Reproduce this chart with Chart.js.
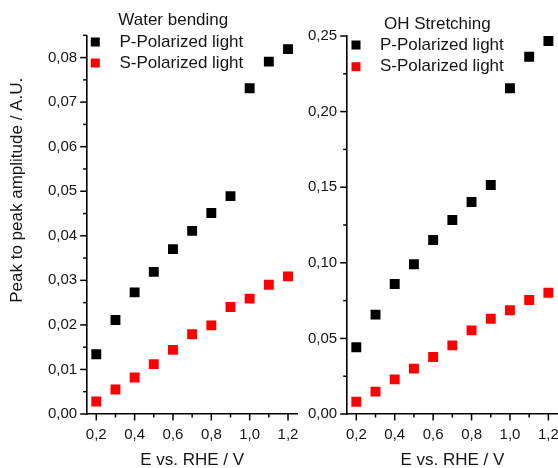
<!DOCTYPE html>
<html><head><meta charset="utf-8">
<script src="https://cdn.jsdelivr.net/npm/chart.js@4"></script>
<style>
html,body{margin:0;padding:0;background:#fff;overflow:hidden;width:558px;height:468px;}
#wrap{position:relative;width:558px;height:468px;overflow:hidden;background:#fff;}
#c1{position:absolute;left:0;top:0;}
#c2{position:absolute;left:290px;top:0;}
</style></head><body>
<div id="wrap"><canvas id="c1" width="310" height="480"></canvas><canvas id="c2" width="300" height="480"></canvas></div>
<script>
// ---- data ----
const potentials = [0.2, 0.3, 0.4, 0.5, 0.6, 0.7, 0.8, 0.9, 1.0, 1.1, 1.2];
const waterP = [0.0134, 0.0211, 0.0273, 0.0319, 0.0370, 0.0411, 0.0451, 0.0489, 0.0731, 0.0791, 0.0819];
const waterS = [0.0028, 0.0055, 0.0082, 0.0112, 0.0144, 0.0179, 0.0199, 0.0240, 0.0259, 0.0290, 0.0309];
const ohP = [0.0441, 0.0657, 0.0860, 0.0990, 0.1151, 0.1283, 0.1402, 0.1515, 0.2154, 0.2363, 0.2467];
const ohS = [0.0081, 0.0148, 0.0229, 0.0300, 0.0377, 0.0454, 0.0553, 0.0630, 0.0686, 0.0754, 0.0802];

// ---- ticks ----
const xMajorTicks = [0.2, 0.4, 0.6, 0.8, 1.0, 1.2];
const xMinorTicks = [0.3, 0.5, 0.7, 0.9, 1.1];
const waterMajorTicks = [0.00, 0.01, 0.02, 0.03, 0.04, 0.05, 0.06, 0.07, 0.08];
const waterMinorTicks = [0.005, 0.015, 0.025, 0.035, 0.045, 0.055, 0.065, 0.075, 0.085];
const ohMajorTicks = [0.00, 0.05, 0.10, 0.15, 0.20, 0.25];
const ohMinorTicks = [0.025, 0.075, 0.125, 0.175, 0.225];

const seriesLabels = ['P-Polarized light', 'S-Polarized light'];
const seriesColors = ['#000000', '#ff0000'];
const yAxisTitle = 'Peak to peak amplitude / A.U.';
const xAxisTitle = 'E vs. RHE / V';

const FONT = '"Liberation Sans", Arial, sans-serif';
const TXT = '#151515';

function pts(ys) { return potentials.map((x, i) => ({x: x, y: ys[i]})); }
function buildTicks(major, minor) {
  return function(scale) {
    const all = major.map(v => ({value: v, minor: false})).concat(minor.map(v => ({value: v, minor: true})));
    all.sort((a, b) => a.value - b.value);
    scale.ticks = all;
  };
}

const tickPlugin = {
  id: 'tickMarks',
  afterDraw(chart) {
    const ctx = chart.ctx; const xs = chart.scales.x, ys = chart.scales.y;
    ctx.save(); ctx.strokeStyle = '#000'; ctx.lineWidth = 1.5;
    xs.ticks.forEach(t => {
      const px = xs.getPixelForValue(t.value); const len = t.minor ? 3.5 : 6.5;
      ctx.beginPath(); ctx.moveTo(px, chart.chartArea.bottom); ctx.lineTo(px, chart.chartArea.bottom + len); ctx.stroke();
    });
    ys.ticks.forEach(t => {
      const py = ys.getPixelForValue(t.value); const len = t.minor ? 3.5 : 6.5;
      ctx.beginPath(); ctx.moveTo(chart.chartArea.left, py); ctx.lineTo(chart.chartArea.left - len, py); ctx.stroke();
    });
    ctx.restore();
  }
};

const yTitlePlugin = {
  id: 'yTitle',
  afterDraw(chart, args, o) {
    if (!o.text) return;
    const ctx = chart.ctx, a = chart.chartArea;
    ctx.save();
    ctx.font = '17px ' + FONT;
    ctx.fillStyle = TXT; ctx.textAlign = 'center'; ctx.textBaseline = 'middle';
    ctx.translate(o.x, a.top + o.dy);
    ctx.rotate(-Math.PI / 2);
    ctx.fillText(o.text, 0, 0);
    ctx.restore();
  }
};

const legendPlugin = {
  id: 'boxLegend',
  afterDraw(chart, args, o) {
    const ctx = chart.ctx, a = chart.chartArea;
    ctx.save();
    ctx.font = '17px ' + FONT;
    ctx.textBaseline = 'middle'; ctx.textAlign = 'left';
    ctx.fillStyle = TXT;
    ctx.fillText(o.title, a.left + o.titleDx, a.top + o.titleDy);
    chart.data.datasets.forEach((ds, i) => {
      const cy = a.top + o.rowDy + i * o.rowGap;
      ctx.fillStyle = ds.backgroundColor;
      ctx.fillRect(a.left + o.boxDx - 4.5, cy - 4.5, 9, 9);
      ctx.fillStyle = TXT;
      ctx.fillText(ds.label, a.left + o.textDx, cy);
    });
    ctx.restore();
  }
};

function makeChart(id, opts) {
  return new Chart(document.getElementById(id), {
    type: 'scatter',
    data: {
      datasets: [
        {label: seriesLabels[0], data: pts(opts.p), backgroundColor: seriesColors[0], borderColor: seriesColors[0],
         pointStyle: 'rect', pointRadius: 7, pointBorderWidth: 0},
        {label: seriesLabels[1], data: pts(opts.s), backgroundColor: seriesColors[1], borderColor: seriesColors[1],
         pointStyle: 'rect', pointRadius: 7, pointBorderWidth: 0}
      ]
    },
    options: {
      responsive: false, animation: false, devicePixelRatio: 1,
      layout: {padding: opts.padding},
      plugins: {legend: {display: false}, tooltip: {enabled: false}, boxLegend: opts.legend, yTitle: opts.yTitle},
      scales: {
        x: {
          type: 'linear', min: 0.15, max: 1.25,
          afterBuildTicks: buildTicks(xMajorTicks, xMinorTicks),
          afterFit: s => { s.height = 66; },
          ticks: {autoSkip: false, maxRotation: 0, minRotation: 0, padding: 5.5, color: TXT, font: {family: FONT, size: 15},
                  callback: (v, i, t) => t[i].minor ? '' : v.toFixed(1).replace('.', ',')},
          grid: {display: true, drawOnChartArea: false, drawTicks: true, tickLength: 6, tickColor: 'rgba(0,0,0,0)'},
          border: {display: true, color: '#000', width: 1.6},
          title: {display: true, text: xAxisTitle, color: TXT, font: {family: FONT, size: 17}, padding: {top: 0, bottom: 9}}
        },
        y: {
          type: 'linear', min: 0, max: opts.ymax,
          afterBuildTicks: buildTicks(opts.major, opts.minor),
          afterFit: s => { s.width = opts.yWidth; },
          ticks: {autoSkip: false, padding: 3.5, color: TXT, font: {family: FONT, size: 15},
                  callback: (v, i, t) => t[i].minor ? '' : v.toFixed(2).replace('.', ',')},
          grid: {display: true, drawOnChartArea: false, drawTicks: true, tickLength: 6, tickColor: 'rgba(0,0,0,0)'},
          border: {display: true, color: '#000', width: 1.6},
          title: {display: false}
        }
      }
    },
    plugins: [tickPlugin, legendPlugin, yTitlePlugin]
  });
}

makeChart('c1', {
  p: waterP, s: waterS, ymax: 0.085, major: waterMajorTicks, minor: waterMinorTicks,
  yWidth: 86.7, yTitle: {text: yAxisTitle, x: 17, dy: 155},
  padding: {top: 35.3, right: 12.4, bottom: 0, left: 0},
  legend: {title: 'Water bending', titleDx: 31.6, titleDy: -14.6, boxDx: 8.6, rowDy: 6.7, rowGap: 21, textDx: 32.8}
});
makeChart('c2', {
  p: ohP, s: ohS, ymax: 0.25, major: ohMajorTicks, minor: ohMinorTicks,
  yWidth: 56.7, yTitle: {text: ''},
  padding: {top: 36, right: 32, bottom: 0, left: 0},
  legend: {title: 'OH Stretching', titleDx: 37.3, titleDy: -12, boxDx: 9.3, rowDy: 9, rowGap: 21.7, textDx: 33.3}
});
</script>
</body></html>
